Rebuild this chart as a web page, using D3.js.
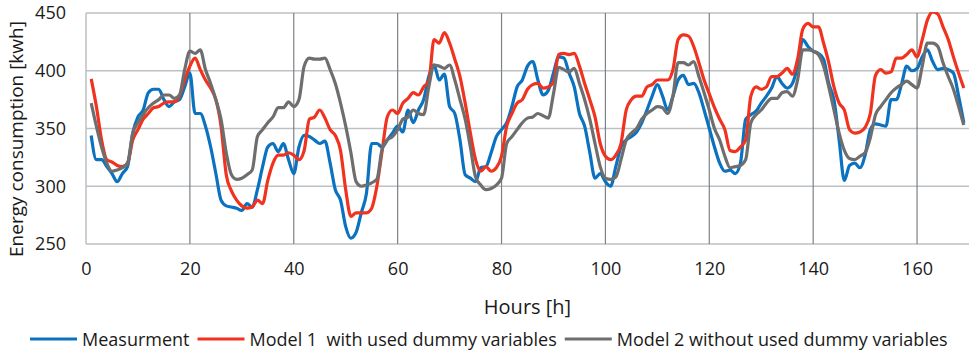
<!DOCTYPE html>
<html>
<head>
<meta charset="utf-8">
<script src="https://cdn.jsdelivr.net/npm/d3@7"></script>
<style>
  body { margin: 0; background: #fff; }
  svg { display: block; font-family: "Open Sans", "Noto Sans", sans-serif; }
</style>
</head>
<body>
<div id="chart"></div>
<script>
// hourly values, hours 1..169
var measurement = [344, 323, 323, 317, 311, 304, 311, 317, 346, 360, 366, 381, 384, 384, 375, 369, 373, 375, 386, 398,
  363, 363, 352, 334, 311, 288, 283, 282, 281, 279, 285, 282, 297, 317, 334, 337, 330, 337, 323, 311,
  334, 344, 343, 340, 337, 339, 320, 297, 288, 265, 255, 260, 277, 294, 337, 337, 334, 340, 346, 352,
  347, 366, 355, 366, 375, 395, 405, 392, 397, 369, 363, 340, 310, 307, 304, 316, 317, 329, 343, 349,
  355, 369, 386, 392, 404, 408, 392, 379, 383, 398, 412, 411, 398, 386, 363, 352, 329, 307, 311, 304,
  300, 317, 334, 340, 343, 347, 355, 366, 378, 388, 378, 366, 378, 392, 396, 388, 389, 381, 366, 350,
  334, 320, 313, 314, 311, 320, 358, 362, 365, 372, 378, 385, 395, 389, 385, 389, 404, 427, 421, 417,
  415, 410, 389, 375, 340, 305, 318, 320, 316, 327, 349, 354, 353, 352, 375, 375, 388, 404, 400, 402,
  412, 418, 408, 401, 402, 401, 398, 378, 355];

var model1 = [393, 369, 340, 323, 321, 318, 317, 320, 340, 349, 358, 363, 368, 369, 372, 373, 373, 378, 392, 404,
  411, 401, 392, 385, 375, 352, 310, 296, 288, 283, 281, 282, 288, 285, 305, 320, 327, 327, 329, 327,
  323, 331, 358, 360, 366, 359, 349, 344, 331, 297, 274, 277, 277, 277, 281, 300, 330, 360, 366, 363,
  372, 376, 381, 379, 386, 391, 427, 424, 433, 424, 410, 395, 372, 346, 323, 313, 317, 313, 316, 326,
  352, 363, 372, 375, 384, 388, 389, 385, 386, 390, 414, 415, 414, 415, 404, 389, 375, 360, 337, 326,
  323, 327, 337, 366, 375, 378, 378, 386, 388, 392, 392, 392, 401, 427, 431, 430, 421, 407, 392, 380,
  368, 358, 349, 331, 330, 334, 340, 378, 386, 384, 386, 395, 395, 398, 402, 397, 410, 436, 441, 438,
  438, 424, 407, 386, 372, 366, 349, 346, 347, 351, 363, 396, 401, 398, 399, 411, 411, 414, 418, 412,
  427, 444, 451, 449, 438, 427, 412, 398, 385];

var model2 = [372, 352, 334, 320, 313, 314, 316, 320, 346, 355, 362, 368, 372, 375, 379, 379, 376, 379, 401, 417,
  415, 418, 401, 389, 375, 358, 329, 310, 306, 307, 310, 314, 343, 349, 355, 360, 368, 368, 373, 369,
  375, 404, 411, 410, 410, 411, 401, 389, 372, 352, 329, 304, 300, 301, 303, 306, 332, 340, 343, 349,
  358, 360, 366, 363, 362, 386, 405, 404, 402, 405, 392, 375, 358, 334, 308, 301, 297, 298, 301, 307,
  337, 343, 349, 355, 359, 360, 363, 361, 359, 380, 403, 401, 399, 402, 389, 375, 358, 337, 317, 307,
  306, 308, 323, 340, 346, 350, 358, 363, 366, 369, 368, 363, 378, 407, 407, 405, 408, 395, 381, 366,
  350, 340, 326, 316, 317, 318, 323, 355, 362, 366, 372, 376, 376, 381, 382, 378, 392, 418, 418, 417,
  414, 404, 386, 366, 346, 331, 324, 323, 326, 329, 342, 362, 369, 375, 381, 385, 388, 391, 388, 385,
  404, 424, 424, 421, 407, 395, 384, 369, 353];

var series_names = ["Measurment", "Model 1  with used dummy variables", "Model 2 without used dummy variables"];
var series_colors = ["#0a72c0", "#f0321e", "#6e6e6e"];
var x_ticks = [0, 20, 40, 60, 80, 100, 120, 140, 160];
var y_ticks = [250, 300, 350, 400, 450];

var margin = { top: 13, right: 2, bottom: 111, left: 86 },
  width = 971 - margin.left - margin.right,
  height = 355 - margin.top - margin.bottom;

var svg = d3
  .select("#chart")
  .append("svg")
  .attr("width", 971)
  .attr("height", 355);

var g = svg
  .append("g")
  .attr("transform", "translate(" + margin.left + "," + margin.top + ")");

var x = d3.scaleLinear().domain([0, 170]).range([0, width]);
var y = d3.scaleLinear().domain([250, 450]).range([height, 0]);

// horizontal grid (light)
g.append("g")
  .selectAll("line")
  .data(y_ticks)
  .enter()
  .append("line")
  .attr("x1", 0)
  .attr("x2", width)
  .attr("y1", function (d) { return y(d); })
  .attr("y2", function (d) { return y(d); })
  .attr("stroke", "#bcc1c5")
  .attr("stroke-width", 1.5);

// vertical grid (darker)
g.append("g")
  .selectAll("line")
  .data(x_ticks.slice(1))
  .enter()
  .append("line")
  .attr("x1", function (d) { return x(d); })
  .attr("x2", function (d) { return x(d); })
  .attr("y1", 0)
  .attr("y2", height)
  .attr("stroke", "#7d8186")
  .attr("stroke-width", 1.2);

// left border
g.append("line")
  .attr("x1", 0).attr("x2", 0)
  .attr("y1", 0).attr("y2", height)
  .attr("stroke", "#bcc1c5")
  .attr("stroke-width", 1.5);

// axes, labels only
var xAxis = g.append("g")
  .attr("transform", "translate(0," + height + ")")
  .call(d3.axisBottom(x).tickValues(x_ticks).tickSize(0).tickPadding(18));
var yAxis = g.append("g")
  .call(d3.axisLeft(y).tickValues(y_ticks).tickSize(0).tickPadding(20));
[xAxis, yAxis].forEach(function (a) {
  a.select(".domain").remove();
  a.selectAll("text")
    .attr("fill", "#1a1a1a")
    .style("font-size", "18px")
    .style("font-family", "'Open Sans', sans-serif");
});

g.append("clipPath")
  .attr("id", "plot-clip")
  .append("rect")
  .attr("x", 0)
  .attr("y", -1)
  .attr("width", width)
  .attr("height", height + 2);

var line = d3
  .line()
  .x(function (d, i) { return x(i + 1); })
  .y(function (d) { return y(d); })
  .curve(d3.curveMonotoneX);

var lines_g = g.append("g").attr("clip-path", "url(#plot-clip)");
[measurement, model1, model2].forEach(function (values, i) {
  lines_g
    .append("path")
    .datum(values)
    .attr("d", line)
    .attr("fill", "none")
    .attr("stroke", series_colors[i])
    .attr("stroke-width", 3.2)
    .attr("stroke-linejoin", "round");
});

// axis titles
svg.append("text")
  .attr("x", margin.left + x(85))
  .attr("y", 306)
  .attr("text-anchor", "middle")
  .attr("dominant-baseline", "central")
  .attr("fill", "#1a1a1a")
  .style("font-size", "20px")
  .text("Hours [h]");

svg.append("text")
  .attr("transform", "translate(16,139) rotate(-90)")
  .attr("text-anchor", "middle")
  .attr("dominant-baseline", "central")
  .attr("fill", "#1a1a1a")
  .style("font-size", "19px")
  .text("Energy consumption [kwh]");

// legend
var legend = svg.append("g").attr("transform", "translate(30,339)");
var lx = 0;
series_names.forEach(function (name, i) {
  legend.append("line")
    .attr("x1", lx).attr("x2", lx + 47)
    .attr("y1", 0).attr("y2", 0)
    .attr("stroke", series_colors[i])
    .attr("stroke-width", 3);
  var t = legend.append("text")
    .attr("x", lx + 52)
    .attr("y", 0)
    .attr("dominant-baseline", "central")
    .attr("fill", "#1a1a1a")
    .style("font-size", "18px")
    .style("white-space", "pre")
    .text(name);
  lx = lx + 52 + t.node().getComputedTextLength() + 8;
});
</script>
</body>
</html>
